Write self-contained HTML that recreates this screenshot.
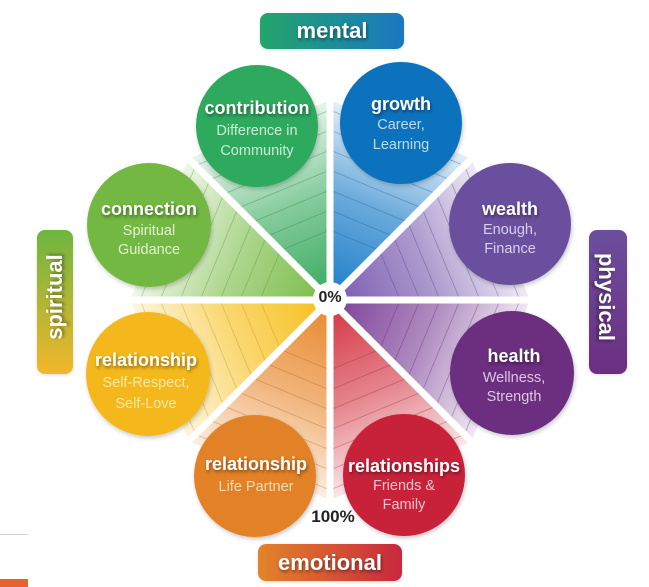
<!DOCTYPE html>
<html>
<head>
<meta charset="utf-8">
<style>
  html,body{margin:0;padding:0;background:#fff;}
  body{width:649px;height:587px;position:relative;overflow:hidden;font-family:"Liberation Sans","DejaVu Sans",sans-serif;}
  svg{position:absolute;left:0;top:0;}
  .t{position:absolute;width:150px;text-align:center;color:#fff;font-weight:bold;font-size:18px;line-height:22px;white-space:nowrap;text-shadow:1px 2px 3px rgba(0,0,0,0.45);}
  .s{position:absolute;width:150px;text-align:center;font-size:14.5px;line-height:20px;white-space:nowrap;}
  .pill{position:absolute;border-radius:8px;color:#fff;font-weight:bold;font-size:22px;display:flex;align-items:center;justify-content:center;text-shadow:1px 2px 3px rgba(0,0,0,0.45);box-shadow:0 1px 3px rgba(0,0,0,0.15);}
  .vt{position:absolute;white-space:nowrap;color:#fff;font-weight:bold;font-size:22px;line-height:26px;text-shadow:1px 2px 3px rgba(0,0,0,0.45);}
</style>
</head>
<body>
<svg width="649" height="587" viewBox="0 0 649 587" xmlns="http://www.w3.org/2000/svg">
  <defs>
    <linearGradient id="gGrowth" gradientUnits="userSpaceOnUse" x1="330" y1="300" x2="400.7" y2="129.3">
      <stop offset="0" stop-color="#1a7cc8" stop-opacity="1"/><stop offset="0.55" stop-color="#1a7cc8" stop-opacity="0.65"/><stop offset="1" stop-color="#1a7cc8" stop-opacity="0.12"/>
    </linearGradient>
    <linearGradient id="gWealth" gradientUnits="userSpaceOnUse" x1="330" y1="300" x2="500.7" y2="229.3">
      <stop offset="0" stop-color="#7758ae" stop-opacity="1"/><stop offset="0.55" stop-color="#7758ae" stop-opacity="0.6"/><stop offset="1" stop-color="#7758ae" stop-opacity="0.12"/>
    </linearGradient>
    <linearGradient id="gHealth" gradientUnits="userSpaceOnUse" x1="330" y1="300" x2="500.7" y2="370.7">
      <stop offset="0" stop-color="#7a3d96" stop-opacity="1"/><stop offset="0.55" stop-color="#7a3d96" stop-opacity="0.6"/><stop offset="1" stop-color="#7a3d96" stop-opacity="0.12"/>
    </linearGradient>
    <linearGradient id="gFriends" gradientUnits="userSpaceOnUse" x1="330" y1="300" x2="400.7" y2="470.7">
      <stop offset="0" stop-color="#d3323f" stop-opacity="1"/><stop offset="0.55" stop-color="#d3323f" stop-opacity="0.6"/><stop offset="1" stop-color="#d3323f" stop-opacity="0.12"/>
    </linearGradient>
    <linearGradient id="gPartner" gradientUnits="userSpaceOnUse" x1="330" y1="300" x2="259.3" y2="470.7">
      <stop offset="0" stop-color="#e8862a" stop-opacity="1"/><stop offset="0.55" stop-color="#e8862a" stop-opacity="0.62"/><stop offset="1" stop-color="#e8862a" stop-opacity="0.14"/>
    </linearGradient>
    <linearGradient id="gSelf" gradientUnits="userSpaceOnUse" x1="330" y1="300" x2="159.3" y2="370.7">
      <stop offset="0" stop-color="#f7bf1c" stop-opacity="1"/><stop offset="0.55" stop-color="#f7bf1c" stop-opacity="0.62"/><stop offset="1" stop-color="#f7bf1c" stop-opacity="0.14"/>
    </linearGradient>
    <linearGradient id="gConn" gradientUnits="userSpaceOnUse" x1="330" y1="300" x2="159.3" y2="229.3">
      <stop offset="0" stop-color="#78bb44" stop-opacity="1"/><stop offset="0.55" stop-color="#78bb44" stop-opacity="0.6"/><stop offset="1" stop-color="#78bb44" stop-opacity="0.12"/>
    </linearGradient>
    <linearGradient id="gContrib" gradientUnits="userSpaceOnUse" x1="330" y1="300" x2="259.3" y2="129.3">
      <stop offset="0" stop-color="#36a95c" stop-opacity="1"/><stop offset="0.55" stop-color="#36a95c" stop-opacity="0.6"/><stop offset="1" stop-color="#36a95c" stop-opacity="0.12"/>
    </linearGradient>
    <filter id="sh" x="-20%" y="-20%" width="140%" height="140%">
      <feDropShadow dx="1" dy="2" stdDeviation="2" flood-color="#000" flood-opacity="0.22"/>
    </filter>
  </defs>

  <!-- wedges -->
  <polygon points="330,300 330,100 471.4,158.6" fill="url(#gGrowth)"/>
  <polygon points="330,300 471.4,158.6 530,300" fill="url(#gWealth)"/>
  <polygon points="330,300 530,300 471.4,441.4" fill="url(#gHealth)"/>
  <polygon points="330,300 471.4,441.4 330,500" fill="url(#gFriends)"/>
  <polygon points="330,300 330,500 188.6,441.4" fill="url(#gPartner)"/>
  <polygon points="330,300 188.6,441.4 130,300" fill="url(#gSelf)"/>
  <polygon points="330,300 130,300 188.6,158.6" fill="url(#gConn)"/>
  <polygon points="330,300 188.6,158.6 330,100" fill="url(#gContrib)"/>

  <!-- scale lines -->
  <g stroke-width="0.9" fill="none" opacity="0.35">
    <g stroke="#0d5a96">
      <line x1="330" y1="230" x2="379.5" y2="250.5"/><line x1="330" y1="210" x2="393.6" y2="236.4"/><line x1="330" y1="190" x2="407.8" y2="222.2"/><line x1="330" y1="170" x2="421.9" y2="208.1"/><line x1="330" y1="150" x2="436.1" y2="193.9"/><line x1="330" y1="130" x2="450.2" y2="179.8"/><line x1="330" y1="110" x2="464.4" y2="165.7"/>
    </g>
    <g stroke="#4b2f80">
      <line x1="379.5" y1="250.5" x2="400" y2="300"/><line x1="393.6" y1="236.4" x2="420" y2="300"/><line x1="407.8" y1="222.2" x2="440" y2="300"/><line x1="421.9" y1="208.1" x2="460" y2="300"/><line x1="436.1" y1="193.9" x2="480" y2="300"/><line x1="450.2" y1="179.8" x2="500" y2="300"/><line x1="464.4" y1="165.7" x2="520" y2="300"/>
    </g>
    <g stroke="#55206c">
      <line x1="400" y1="300" x2="379.5" y2="349.5"/><line x1="420" y1="300" x2="393.6" y2="363.6"/><line x1="440" y1="300" x2="407.8" y2="377.8"/><line x1="460" y1="300" x2="421.9" y2="391.9"/><line x1="480" y1="300" x2="436.1" y2="406.1"/><line x1="500" y1="300" x2="450.2" y2="420.2"/><line x1="520" y1="300" x2="464.4" y2="434.4"/>
    </g>
    <g stroke="#9e1a2a">
      <line x1="379.5" y1="349.5" x2="330" y2="370"/><line x1="393.6" y1="363.6" x2="330" y2="390"/><line x1="407.8" y1="377.8" x2="330" y2="410"/><line x1="421.9" y1="391.9" x2="330" y2="430"/><line x1="436.1" y1="406.1" x2="330" y2="450"/><line x1="450.2" y1="420.2" x2="330" y2="470"/><line x1="464.4" y1="434.4" x2="330" y2="490"/>
    </g>
    <g stroke="#b35a12">
      <line x1="330" y1="370" x2="280.5" y2="349.5"/><line x1="330" y1="390" x2="266.4" y2="363.6"/><line x1="330" y1="410" x2="252.2" y2="377.8"/><line x1="330" y1="430" x2="238.1" y2="391.9"/><line x1="330" y1="450" x2="223.9" y2="406.1"/><line x1="330" y1="470" x2="209.8" y2="420.2"/><line x1="330" y1="490" x2="195.6" y2="434.4"/>
    </g>
    <g stroke="#c08a00">
      <line x1="280.5" y1="349.5" x2="260" y2="300"/><line x1="266.4" y1="363.6" x2="240" y2="300"/><line x1="252.2" y1="377.8" x2="220" y2="300"/><line x1="238.1" y1="391.9" x2="200" y2="300"/><line x1="223.9" y1="406.1" x2="180" y2="300"/><line x1="209.8" y1="420.2" x2="160" y2="300"/><line x1="195.6" y1="434.4" x2="140" y2="300"/>
    </g>
    <g stroke="#4d8a22">
      <line x1="260" y1="300" x2="280.5" y2="250.5"/><line x1="240" y1="300" x2="266.4" y2="236.4"/><line x1="220" y1="300" x2="252.2" y2="222.2"/><line x1="200" y1="300" x2="238.1" y2="208.1"/><line x1="180" y1="300" x2="223.9" y2="193.9"/><line x1="160" y1="300" x2="209.8" y2="179.8"/><line x1="140" y1="300" x2="195.6" y2="165.7"/>
    </g>
    <g stroke="#1d7a3c">
      <line x1="280.5" y1="250.5" x2="330" y2="230"/><line x1="266.4" y1="236.4" x2="330" y2="210"/><line x1="252.2" y1="222.2" x2="330" y2="190"/><line x1="238.1" y1="208.1" x2="330" y2="170"/><line x1="223.9" y1="193.9" x2="330" y2="150"/><line x1="209.8" y1="179.8" x2="330" y2="130"/><line x1="195.6" y1="165.7" x2="330" y2="110"/>
    </g>
  </g>

  <!-- white dividers -->
  <g stroke="#fff" stroke-width="7">
    <line x1="330" y1="300" x2="330" y2="96"/>
    <line x1="330" y1="300" x2="330" y2="504"/>
    <line x1="330" y1="300" x2="126" y2="300"/>
    <line x1="330" y1="300" x2="534" y2="300"/>
    <line x1="330" y1="300" x2="474" y2="156"/>
    <line x1="330" y1="300" x2="186" y2="444"/>
    <line x1="330" y1="300" x2="186" y2="156"/>
    <line x1="330" y1="300" x2="474" y2="444"/>
  </g>
  <circle cx="330" cy="299" r="17" fill="#fff"/>

  <!-- circles -->
  <g filter="url(#sh)">
    <circle cx="257" cy="126" r="61" fill="#2faa5e"/>
    <circle cx="401" cy="123" r="61" fill="#0b72bd"/>
    <circle cx="149" cy="225" r="62" fill="#72b843"/>
    <circle cx="510" cy="224" r="61" fill="#6b4f9e"/>
    <circle cx="148" cy="374" r="62" fill="#f5b81d"/>
    <circle cx="512" cy="373" r="62" fill="#6c2d7f"/>
    <circle cx="255" cy="476" r="61" fill="#e28126"/>
    <circle cx="404" cy="475" r="61" fill="#c8243b"/>
  </g>

  <!-- bottom-left decorations -->
  <rect x="0" y="534" width="28" height="1" fill="#cfcfcf"/>
  <rect x="0" y="579" width="28" height="8" fill="#e8622c"/>
</svg>

<!-- center labels -->
<div style="position:absolute;left:300px;top:288px;width:60px;text-align:center;font-weight:bold;font-size:16px;line-height:20px;color:#222;">0%</div>
<div style="position:absolute;left:300px;top:506px;width:66px;text-align:center;font-weight:bold;font-size:17px;line-height:22px;color:#222;">100%</div>

<!-- circle texts -->
<div class="t" style="left:182px;top:97px;">contribution</div>
<div class="s" style="left:182px;top:121px;color:#cdebd6;">Difference in<br>Community</div>

<div class="t" style="left:326px;top:93px;">growth</div>
<div class="s" style="left:326px;top:116px;color:#bcdcf3;line-height:19.5px;">Career,<br>Learning</div>

<div class="t" style="left:74px;top:198px;">connection</div>
<div class="s" style="left:74px;top:222px;color:#e3f2d4;line-height:19px;">Spiritual<br>Guidance</div>

<div class="t" style="left:435px;top:198px;">wealth</div>
<div class="s" style="left:435px;top:221px;color:#d9cfec;line-height:19px;">Enough,<br>Finance</div>

<div class="t" style="left:71px;top:349px;">relationship</div>
<div class="s" style="left:71px;top:373px;color:#fde7a6;line-height:21px;">Self-Respect,<br>Self-Love</div>

<div class="t" style="left:439px;top:345px;">health</div>
<div class="s" style="left:439px;top:369px;color:#dcc7e5;line-height:19px;">Wellness,<br>Strength</div>

<div class="t" style="left:181px;top:453px;">relationship</div>
<div class="s" style="left:181px;top:477px;color:#fbd9b3;">Life Partner</div>

<div class="t" style="left:329px;top:455px;">relationships</div>
<div class="s" style="left:329px;top:477px;color:#f4c3c9;line-height:19px;">Friends &amp;<br>Family</div>

<!-- dimension pills -->
<div class="pill" style="left:260px;top:13px;width:144px;height:36px;background:linear-gradient(90deg,#22a56a,#1a78c0);">mental</div>
<div class="pill" style="left:258px;top:544px;width:144px;height:37px;background:linear-gradient(90deg,#e3842a,#c8283e);">emotional</div>

<div class="pill" style="left:37px;top:230px;width:36px;height:144px;background:linear-gradient(180deg,#6db540,#f2b72a);"></div>
<div class="vt" style="left:55px;top:297px;transform:translate(-50%,-50%) rotate(-90deg);">spiritual</div>

<div class="pill" style="left:589px;top:230px;width:38px;height:144px;background:linear-gradient(180deg,#6a4f9d,#6c2e80);"></div>
<div class="vt" style="left:606px;top:297px;transform:translate(-50%,-50%) rotate(90deg);">physical</div>
</body>
</html>
